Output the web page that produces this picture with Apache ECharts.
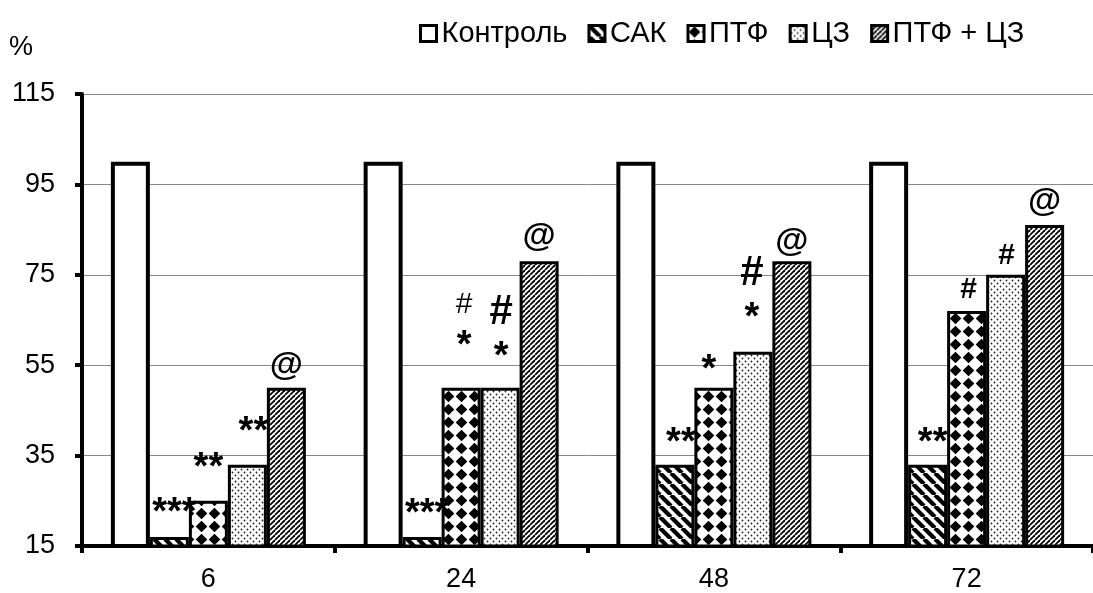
<!DOCTYPE html>
<html><head><meta charset="utf-8">
<script src="https://cdn.jsdelivr.net/npm/echarts@6/dist/echarts.min.js"></script>
<style>html,body{margin:0;padding:0;background:#fff}#c{width:1093px;height:593px}</style>
</head><body><div id="c"></div>
<script>
// ---- data ----
const categories = ['6', '24', '48', '72'];
const seriesNames = ['Контроль', 'САК', 'ПТФ', 'ЦЗ', 'ПТФ + ЦЗ'];
const control = [100, 100, 100, 100];
const sak = [17, 17, 33, 33];
const ptf = [25, 50, 50, 67];
const cz = [33, 50, 58, 75];
const ptfcz = [50, 78, 78, 86];
const marksControl = ['', '', '', ''];
const marksSak = ['***', '***', '**', '**'];
const marksPtf = ['**', '#\n*', '*', '#'];
const marksCz = ['**', '#\n*', '#\n*', '#'];
const marksPtfCz = ['@', '@', '@', '@'];
const yMin = 15, yMax = 115, yStep = 20;

// ---- styles (not data) ----
const hashStyleSak = [null, null, null, null];
const hashStylePtf = [null, 'hs', null, 'hm'];
const hashStyleCz = [null, 'hb', 'hb', 'hm'];
const hashStyleNone = [null, null, null, null];
const offControl = [[0,0],[0,0],[0,0],[0,0]];
const offSak = [[5,-3],[5,-2],[6,-1],[5,-1]];
const offPtf = [[0,-12],[3,-21],[-5,3],[2,-6]];
const offCz = [[6,-12],[1,-10],[-1,-13],[1,-4]];
const offPtfCz = [[0,-5],[0,-8],[0,-3],[0,-6]];

const FONT = 'Liberation Sans, Arial, sans-serif';

function pat(w, h, draw) {
  const c = document.createElement('canvas');
  c.width = w; c.height = h;
  const g = c.getContext('2d');
  g.fillStyle = '#fff'; g.fillRect(0, 0, w, h);
  g.fillStyle = '#000'; g.strokeStyle = '#000';
  draw(g, w, h);
  return { image: c, repeat: 'repeat' };
}
const fillControl = '#ffffff';
const fillSak = pat(11, 11, (g, w, h) => {
  g.lineWidth = 4.2;
  for (let k = -1; k <= 1; k++) { g.beginPath(); g.moveTo(k * w, 0); g.lineTo(k * w + w, h); g.stroke(); }
});
const fillPtf = pat(13, 13, (g, w, h) => {
  const r = 5.8, cx = w / 2, cy = h / 2;
  g.beginPath(); g.moveTo(cx, cy - r); g.lineTo(cx + r, cy); g.lineTo(cx, cy + r); g.lineTo(cx - r, cy); g.closePath(); g.fill();
});
const fillCz = pat(6, 6, (g) => {
  g.fillStyle = '#222';
  [[1.5, 1.5], [4.5, 4.5]].forEach(([x, y]) => { g.beginPath(); g.arc(x, y, 0.9, 0, Math.PI * 2); g.fill(); });
});
const fillPtfCz = pat(5, 5, (g, w, h) => {
  g.lineWidth = 1.8;
  for (let k = -1; k <= 1; k++) { g.beginPath(); g.moveTo(k * w, h); g.lineTo(k * w + w, 0); g.stroke(); }
});

const rich = {
  st: { fontFamily: FONT, fontWeight: 'bold', fontSize: 38, lineHeight: 40, color: '#000' },
  hs: { fontFamily: FONT, fontWeight: 'normal', fontSize: 30, lineHeight: 44, color: '#000' },
  hb: { fontFamily: FONT, fontWeight: 'bold', fontSize: 42, lineHeight: 50, color: '#000' },
  hm: { fontFamily: FONT, fontWeight: 'bold', fontSize: 30, lineHeight: 30, color: '#000' },
  at: { fontFamily: FONT, fontWeight: 'bold', fontSize: 34, lineHeight: 34, color: '#000' }
};
function fmt(s, hs) {
  if (!s) return '';
  return s.split('\n').map(line => {
    if (line[0] === '#') return '{' + (hs || 'hm') + '|' + line + '}';
    if (line[0] === '@') return '{at|' + line + '}';
    return '{st|' + line + '}';
  }).join('\n');
}
function mk(name, values, marks, hashStyles, offsets, fill, bw) {
  return {
    name, type: 'bar', barWidth: 39, barGap: '0%',
    itemStyle: { color: fill, borderColor: '#000', borderWidth: bw },
    emphasis: { disabled: true },
    data: values.map((v, i) => ({
      value: v,
      label: { offset: offsets[i], formatter: fmt(marks[i], hashStyles[i]) }
    })),
    label: { show: true, position: 'top', distance: 0, rich: rich, align: 'center' }
  };
}

const chart = echarts.init(document.getElementById('c'));
chart.setOption({
  animation: false,
  backgroundColor: '#fff',
  grid: { left: 82, right: -9, top: 94, bottom: 44, containLabel: false },
  legend: {
    data: seriesNames, left: 414, top: 14, icon: 'rect', itemWidth: 16, itemHeight: 16, itemGap: 20,
    itemStyle: { borderWidth: 3, borderColor: '#000' },
    textStyle: { fontFamily: FONT, fontSize: 29, color: '#000' }
  },
  graphic: [{ type: 'text', left: 9, top: 34, style: { text: '%', font: '27px ' + FONT, fill: '#000' } }],
  xAxis: {
    type: 'category', data: categories,
    axisLine: { lineStyle: { color: '#000', width: 4 } },
    axisTick: { show: true, alignWithLabel: false, length: 7, lineStyle: { color: '#000', width: 4 } },
    axisLabel: { fontFamily: FONT, fontSize: 27, color: '#000', margin: 20 }
  },
  yAxis: {
    type: 'value', min: yMin, max: yMax, interval: yStep,
    axisLine: { show: true, lineStyle: { color: '#000', width: 4 } },
    axisTick: { show: true, length: 7, lineStyle: { color: '#000', width: 4 } },
    splitLine: { lineStyle: { color: '#888', width: 1 } },
    axisLabel: { fontFamily: FONT, fontSize: 27, color: '#000', margin: 27 }
  },
  series: [
    mk(seriesNames[0], control, marksControl, hashStyleNone, offControl, fillControl, 4),
    mk(seriesNames[1], sak, marksSak, hashStyleSak, offSak, fillSak, 3),
    mk(seriesNames[2], ptf, marksPtf, hashStylePtf, offPtf, fillPtf, 3),
    mk(seriesNames[3], cz, marksCz, hashStyleCz, offCz, fillCz, 3),
    mk(seriesNames[4], ptfcz, marksPtfCz, hashStyleNone, offPtfCz, fillPtfCz, 3)
  ]
});
</script></body></html>
